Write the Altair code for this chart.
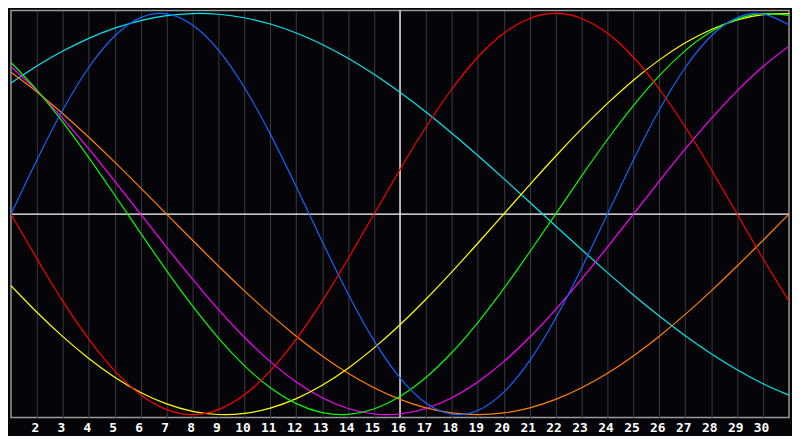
import altair as alt
import pandas as pd

days = list(range(1, 32))
tick_days = list(range(2, 31))

series_names = ["spiritual", "awareness", "intuitive", "aesthetic", "intellectual", "physical", "emotional"]
series_colors = ["#00e8ee", "#ff8000", "#ff00ff", "#ffff00", "#00ff00", "#1464ff", "#ff0000"]

physical = [0, 0.2698, 0.5196, 0.7308, 0.8879, 0.9791, 0.9977, 0.9423, 0.8170, 0.6311, 0.3984,
            0.1362, -0.1362, -0.3984, -0.6311, -0.8170, -0.9423, -0.9977, -0.9791, -0.8879,
            -0.7308, -0.5196, -0.2698, 0, 0.2698, 0.5196, 0.7308, 0.8879, 0.9791, 0.9977, 0.9423]
emotional = [0, -0.2225, -0.4339, -0.6235, -0.7818, -0.9010, -0.9749, -1.0, -0.9749, -0.9010,
             -0.7818, -0.6235, -0.4339, -0.2225, 0, 0.2225, 0.4339, 0.6235, 0.7818, 0.9010,
             0.9749, 1.0, 0.9749, 0.9010, 0.7818, 0.6235, 0.4339, 0.2225, 0, -0.2225, -0.4339]
intellectual = [0.7557, 0.6182, 0.4582, 0.2817, 0.0951, -0.0951, -0.2817, -0.4582, -0.6182,
                -0.7557, -0.8660, -0.9450, -0.9898, -0.9989, -0.9718, -0.9096, -0.8146, -0.6901,
                -0.5406, -0.3717, -0.1893, 0, 0.1893, 0.3717, 0.5406, 0.6901, 0.8146, 0.9096,
                0.9718, 0.9989, 0.9898]
intuitive = [0.7357, 0.6142, 0.4759, 0.3247, 0.1646, 0, -0.1646, -0.3247, -0.4759, -0.6142,
             -0.7357, -0.8372, -0.9158, -0.9694, -0.9966, -0.9966, -0.9694, -0.9158, -0.8372,
             -0.7357, -0.6142, -0.4759, -0.3247, -0.1646, 0, 0.1646, 0.3247, 0.4759, 0.6142,
             0.7357, 0.8372]
aesthetic = [-0.3572, -0.4894, -0.6112, -0.7199, -0.8133, -0.8894, -0.9464, -0.9834, -0.9993,
             -0.9940, -0.9675, -0.9203, -0.8536, -0.7687, -0.6673, -0.5518, -0.4245, -0.2881,
             -0.1456, 0, 0.1456, 0.2881, 0.4245, 0.5518, 0.6673, 0.7687, 0.8536, 0.9203,
             0.9675, 0.9940, 0.9993]
awareness = [0.7071, 0.6088, 0.5, 0.3827, 0.2588, 0.1305, 0, -0.1305, -0.2588, -0.3827, -0.5,
             -0.6088, -0.7071, -0.7934, -0.8660, -0.9239, -0.9659, -0.9914, -1.0, -0.9914,
             -0.9659, -0.9239, -0.8660, -0.7934, -0.7071, -0.6088, -0.5, -0.3827, -0.2588,
             -0.1305, 0]
spiritual = [0.6528, 0.7378, 0.8125, 0.8757, 0.9267, 0.9646, 0.9890, 0.9996, 0.9960, 0.9786,
             0.9473, 0.9028, 0.8456, 0.7765, 0.6965, 0.6068, 0.5085, 0.4031, 0.2921, 0.1769,
             0.0592, -0.0592, -0.1769, -0.2921, -0.4031, -0.5085, -0.6068, -0.6965, -0.7765,
             -0.8456, -0.9028]

series_values = {
    "spiritual": spiritual,
    "awareness": awareness,
    "intuitive": intuitive,
    "aesthetic": aesthetic,
    "intellectual": intellectual,
    "physical": physical,
    "emotional": emotional,
}

rows = []
for order, name in enumerate(series_names):
    for d, v in zip(days, series_values[name]):
        rows.append({"day": d, "value": v, "series": name, "order": order})
df = pd.DataFrame(rows)

x_scale = alt.Scale(domain=[1, 31], nice=False, zero=False)
y_scale = alt.Scale(domain=[-1.0142, 1.0142], nice=False, zero=False)

x_axis = alt.Axis(
    values=tick_days, grid=True, gridColor="#3a3a40", gridWidth=1,
    ticks=False, domain=False, labelColor="#ffffff", labelFont="DejaVu Sans Mono",
    labelFontWeight="bold", labelFontSize=13, labelPadding=4, title=None,
    labelFlush=False, labelOffset=-2,
)

lines = alt.Chart(df).mark_line(strokeWidth=1.2, interpolate="natural").encode(
    x=alt.X("day:Q", scale=x_scale, axis=x_axis),
    y=alt.Y("value:Q", scale=y_scale, axis=None),
    color=alt.Color("series:N", scale=alt.Scale(domain=series_names, range=series_colors), legend=None),
    detail="series:N",
    order="order:Q",
)

zero_df = pd.DataFrame({"value": [0]})
zero_rule = alt.Chart(zero_df).mark_rule(color="#ffffff", strokeWidth=1.3).encode(
    y=alt.Y("value:Q", scale=y_scale, axis=None)
)
mid_df = pd.DataFrame({"day": [16]})
mid_rule = alt.Chart(mid_df).mark_rule(color="#ffffff", strokeWidth=1.3).encode(
    x=alt.X("day:Q", scale=x_scale, axis=x_axis)
)

chart = alt.layer(zero_rule, mid_rule, lines).properties(
    width=784, height=410, background="#050408", padding=0
).configure_view(stroke="#9a9a9a", strokeWidth=1.5)

chart.save("out.html", embed_options={"renderer": "svg", "actions": False})
